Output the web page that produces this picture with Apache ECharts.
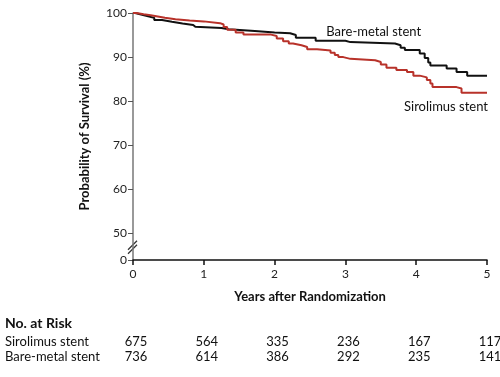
<!DOCTYPE html>
<html>
<head>
<meta charset="utf-8">
<script src="https://cdn.jsdelivr.net/npm/echarts@6/dist/echarts.min.js"></script>
<style>
  html, body {margin: 0; padding: 0; background: #fff;}
  #chart {width: 500px; height: 377px;}
</style>
</head>
<body>
<div id="chart"></div>
<script>
// years after randomization, % surviving (Kaplan-Meier steps)
var sirolimus = [
  [0, 100], [0.05, 99.7], [0.15, 99.5], [0.25, 99.2], [0.35, 98.9], [0.45, 98.6],
  [0.6, 98.3], [0.8, 98.1], [1.0, 97.7], [1.23, 97.4], [1.28, 96.8], [1.33, 96.2],
  [1.45, 95.6], [1.56, 95.1], [1.95, 94.8], [2.03, 94.2], [2.12, 93.6], [2.2, 93.1],
  [2.26, 92.7], [2.38, 92.3], [2.46, 91.8], [2.6, 91.5], [2.79, 91.0], [2.85, 90.5],
  [2.9, 90.0], [2.97, 89.6], [3.07, 89.3], [3.42, 88.9], [3.5, 88.3], [3.58, 87.6],
  [3.72, 87.1], [3.87, 86.6], [3.96, 85.8], [4.05, 85.4], [4.15, 84.8], [4.2, 84.0],
  [4.23, 83.2], [4.57, 82.9], [4.64, 81.9], [5, 81.8]
];
var bareMetal = [
  [0, 100], [0.03, 99.7], [0.1, 99.3], [0.2, 98.9], [0.3, 98.4], [0.41, 98.0],
  [0.55, 97.6], [0.7, 97.3], [0.85, 96.9], [0.88, 96.6], [1.25, 96.3], [1.35, 95.9],
  [1.72, 95.6], [2.0, 95.4], [2.22, 95.0], [2.3, 94.4], [2.58, 93.7], [3.0, 93.4],
  [3.07, 93.1], [3.7, 92.7], [3.78, 92.1], [3.84, 91.6], [4.05, 90.8], [4.12, 89.8],
  [4.17, 88.8], [4.2, 88.1], [4.43, 87.4], [4.57, 86.6], [4.72, 85.8], [5, 85.8]
];

var years = [0, 1, 2, 3, 4, 5];
var yTicks = [44, 50, 60, 70, 80, 90, 100];   // 44 stands in for the broken "0"
var riskGroups = ['Sirolimus stent', 'Bare-metal stent'];
var riskSirolimus = [675, 564, 335, 236, 167, 117];
var riskBareMetal = [736, 614, 386, 292, 235, 141];

var font = 'Lato, "DejaVu Sans", sans-serif';
var red = '#b8322a';

var myChart = echarts.init(document.getElementById('chart'));
myChart.setOption({
  animation: false,
  grid: {left: 133, right: 13, top: 13, bottom: 117},
  xAxis: {
    type: 'value',
    min: 0, max: 5, interval: 1,
    name: 'Years after Randomization',
    nameLocation: 'middle',
    nameGap: 30,
    nameTextStyle: {fontFamily: font, fontWeight: 'bold', fontSize: 13, color: '#111'},
    splitLine: {show: false},
    axisLine: {lineStyle: {color: '#111', width: 1.5}},
    axisTick: {length: 5, lineStyle: {color: '#111', width: 1.5}},
    axisLabel: {fontFamily: font, fontSize: 12, color: '#222', margin: 8}
  },
  yAxis: {
    type: 'value',
    min: 44, max: 100,
    name: 'Probability of Survival (%)',
    nameLocation: 'middle',
    nameGap: 42,
    nameTextStyle: {fontFamily: font, fontWeight: 'bold', fontSize: 13, color: '#111'},
    splitLine: {show: false},
    axisLine: {onZero: false, lineStyle: {color: '#777', width: 1.5}},
    axisTick: {length: 5, customValues: yTicks, lineStyle: {color: '#555'}},
    axisLabel: {
      customValues: yTicks,
      fontFamily: font, fontSize: 12, color: '#222', margin: 6,
      formatter: function (v) { return v === 44 ? '0' : String(v); }
    }
  },
  series: [
    {
      name: 'Bare-metal stent',
      type: 'line',
      step: 'end',
      showSymbol: false,
      data: bareMetal,
      lineStyle: {color: '#111', width: 2},
      itemStyle: {color: '#111'}
    },
    {
      name: 'Sirolimus stent',
      type: 'line',
      step: 'end',
      showSymbol: false,
      data: sirolimus,
      lineStyle: {color: red, width: 2},
      itemStyle: {color: red}
    }
  ]
});

// annotations and the at-risk table, placed through the chart's own scales
function px(x, y) { return myChart.convertToPixel({gridIndex: 0}, [x, y]); }

var g = [];
var b = px(0, 47);
g.push({type: 'line', shape: {x1: b[0] - 5, y1: b[1] + 3, x2: b[0] + 4, y2: b[1] - 6}, style: {stroke: '#333', lineWidth: 1.2}});
g.push({type: 'line', shape: {x1: b[0] - 5, y1: b[1] + 7, x2: b[0] + 4, y2: b[1] - 2}, style: {stroke: '#333', lineWidth: 1.2}});

var p = px(2.73, 95.7);
g.push({type: 'text', x: p[0], y: p[1], style: {text: 'Bare-metal stent', font: '13px ' + font, fill: '#111', textVerticalAlign: 'middle'}});
p = px(5, 78.7);
g.push({type: 'text', x: p[0] + 1, y: p[1], style: {text: 'Sirolimus stent', font: '13px ' + font, fill: '#111', textAlign: 'right', textVerticalAlign: 'middle'}});

g.push({type: 'text', x: 5, y: 323, style: {text: 'No. at Risk', font: 'bold 14px ' + font, fill: '#111', textVerticalAlign: 'middle'}});
var rows = [riskSirolimus, riskBareMetal];
var rowY = [342, 357];
rows.forEach(function (vals, r) {
  g.push({type: 'text', x: 5, y: rowY[r], style: {text: riskGroups[r], font: '13px ' + font, fill: '#111', textVerticalAlign: 'middle'}});
  vals.forEach(function (v, i) {
    var q = px(years[i], 44);
    g.push({type: 'text', x: q[0] + 3, y: rowY[r], style: {text: String(v), font: '13px ' + font, fill: '#111', textAlign: 'center', textVerticalAlign: 'middle'}});
  });
});
myChart.setOption({graphic: g});
</script>
</body>
</html>
